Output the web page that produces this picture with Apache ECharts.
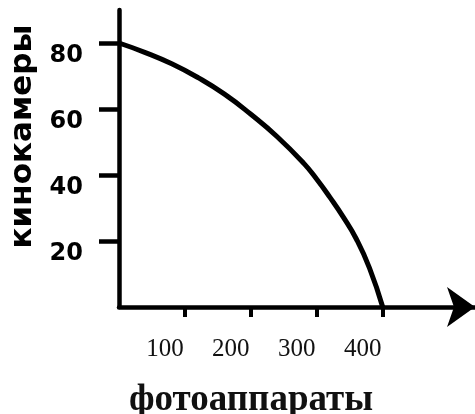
<!DOCTYPE html>
<html>
<head>
<meta charset="utf-8">
<script src="https://cdn.jsdelivr.net/npm/echarts@6/dist/echarts.min.js"></script>
<style>
  html, body { margin: 0; padding: 0; background: #fff; }
  #chart { width: 475px; height: 414px; }
</style>
</head>
<body>
<div id="chart"></div>
<script>
// photo cameras (x) vs movie cameras (y), production possibility curve
const photoCams = [0, 40, 80, 120, 160, 200, 240, 280, 300, 320, 340, 360, 380, 400];
const movieCams = [80, 77.1, 73.7, 69.5, 64.5, 58.4, 51.6, 43.6, 38.7, 33.2, 27.3, 20.6, 11.8, 0];
const xTicks = [100, 200, 300, 400];
const yTicks = [20, 40, 60, 80];

const chart = echarts.init(document.getElementById('chart'));

chart.setOption({
  animation: false,
  grid: { left: 119, right: 0, top: 10, bottom: 107, outerBoundsMode: 'none', containLabel: false },
  xAxis: {
    type: 'value',
    min: 0,
    max: 540,
    name: 'фотоаппараты',
    nameLocation: 'middle',
    nameGap: 75,
    nameTextStyle: {
      fontFamily: 'Liberation Serif',
      fontWeight: 'bold',
      fontSize: 37,
      color: '#111',
      padding: [0, 92, 0, 0],
    },
    axisLine: {
      lineStyle: { color: '#000', width: 4.5 },
      symbol: ['none', 'arrow'],
      symbolSize: [30, 28],
    },
    axisTick: {
      customValues: xTicks,
      length: 10,
      lineStyle: { color: '#000', width: 4 },
    },
    axisLabel: {
      customValues: xTicks,
      margin: 30,
      fontFamily: 'Liberation Serif',
      fontSize: 25,
      color: '#111',
      padding: [0, 40, 0, 0],
    },
    splitLine: { show: false },
  },
  yAxis: {
    type: 'value',
    min: 0,
    max: 90,
    name: 'кинокамеры',
    nameLocation: 'middle',
    nameRotate: 90,
    nameGap: 77,
    nameTextStyle: {
      fontFamily: 'DejaVu Sans',
      fontWeight: 'bold',
      fontSize: 31,
      color: '#000',
      padding: [0, 0, 0, 44],
    },
    axisLine: { show: true, lineStyle: { color: '#000', width: 4.5 } },
    axisTick: {
      customValues: yTicks,
      length: 20,
      lineStyle: { color: '#000', width: 4.5 },
    },
    axisLabel: {
      customValues: yTicks,
      margin: 36,
      fontFamily: 'DejaVu Sans',
      fontWeight: 'bold',
      fontSize: 24,
      color: '#000',
      verticalAlign: 'top',
      lineHeight: 26,
    },
    splitLine: { show: false },
  },
  series: [
    {
      type: 'line',
      data: photoCams.map((x, i) => [x, movieCams[i]]),
      smooth: 0.5,
      showSymbol: false,
      lineStyle: { color: '#000', width: 5 },
    },
  ],
});
</script>
</body>
</html>
